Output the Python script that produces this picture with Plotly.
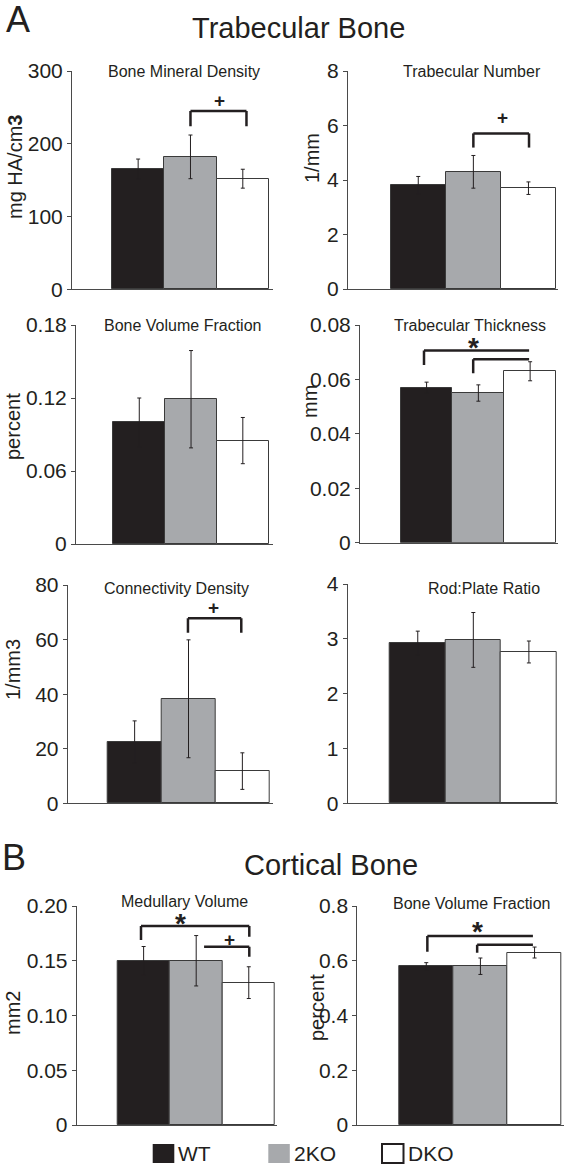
import plotly.graph_objects as go

# ---------------- data ----------------
groups = ["WT", "2KO", "DKO"]
bar_colors = ["#231f20", "#a7a9ac", "#ffffff"]

bmd_mean = [165, 182, 152]
bmd_err = [14, 30, 13]
bmd_ticks = [0, 100, 200, 300]
bmd_ticktext = ["0", "100", "200", "300"]

tbn_mean = [3.8, 4.3, 3.7]
tbn_err = [0.33, 0.6, 0.23]
tbn_ticks = [0, 2, 4, 6, 8]
tbn_ticktext = ["0", "2", "4", "6", "8"]

bvf_mean = [0.100, 0.119, 0.085]
bvf_err = [0.020, 0.040, 0.019]
bvf_ticks = [0, 0.06, 0.12, 0.18]
bvf_ticktext = ["0", "0.06", "0.12", "0.18"]

tbth_mean = [0.057, 0.055, 0.063]
tbth_err = [0.002, 0.003, 0.0035]
tbth_ticks = [0, 0.02, 0.04, 0.06, 0.08]
tbth_ticktext = ["0", "0.02", "0.04", "0.06", "0.08"]

conn_mean = [22.4, 38.3, 11.8]
conn_err = [7.8, 21.6, 6.7]
conn_ticks = [0, 20, 40, 60, 80]
conn_ticktext = ["0", "20", "40", "60", "80"]

rod_mean = [2.92, 2.98, 2.76]
rod_err = [0.22, 0.5, 0.2]
rod_ticks = [0, 1, 2, 3, 4]
rod_ticktext = ["0", "1", "2", "3", "4"]

medv_mean = [0.150, 0.150, 0.130]
medv_err = [0.013, 0.023, 0.0145]
medv_ticks = [0, 0.05, 0.10, 0.15, 0.20]
medv_ticktext = ["0", "0.05", "0.10", "0.15", "0.20"]

cbvf_mean = [0.58, 0.58, 0.63]
cbvf_err = [0.013, 0.03, 0.02]
cbvf_ticks = [0, 0.2, 0.4, 0.6, 0.8]
cbvf_ticktext = ["0", "0.2", "0.4", "0.6", "0.8"]

titles = ["Bone Mineral Density", "Trabecular Number", "Bone Volume Fraction",
          "Trabecular Thickness", "Connectivity Density", "Rod:Plate Ratio",
          "Medullary Volume", "Bone Volume Fraction"]
ytitles = ["mg HA/cm<b>3</b>", "1/mm", "percent", "mm", "1/mm3", "", "mm2", "percent"]
means = [bmd_mean, tbn_mean, bvf_mean, tbth_mean, conn_mean, rod_mean, medv_mean, cbvf_mean]
errs = [bmd_err, tbn_err, bvf_err, tbth_err, conn_err, rod_err, medv_err, cbvf_err]
tickvals = [bmd_ticks, tbn_ticks, bvf_ticks, tbth_ticks, conn_ticks, rod_ticks, medv_ticks, cbvf_ticks]
ticktexts = [bmd_ticktext, tbn_ticktext, bvf_ticktext, tbth_ticktext, conn_ticktext,
             rod_ticktext, medv_ticktext, cbvf_ticktext]

# significance brackets: panel, from group, to group, level, left leg end, right leg end
brackets = [
    (0, 1.0, 2.07, 245, 224, 224),
    (1, 1.0, 2.01, 5.71, 5.19, 5.19),
    (3, -0.05, 1.98, 0.0706, 0.0653, None),
    (3, 0.90, 1.98, 0.0674, 0.0623, None),
    (4, 0.99, 1.98, 67.8, 62.5, 62.5),
    (6, -0.05, 2.01, 0.1817, 0.169, 0.172),
    (6, 1.15, 2.01, 0.1628, None, 0.1537),
    (7, 0.02, 1.97, 0.690, 0.633, None),
    (7, 0.94, 1.97, 0.658, 0.629, None),
]
marks = [  # panel, x, y, text
    (0, 1.56, 260, "+"),
    (1, 1.52, 6.28, "+"),
    (3, 0.90, 0.0734, "*"),
    (4, 1.455, 71.6, "+"),
    (6, 0.71, 0.189, "*"),
    (6, 1.63, 0.1696, "+"),
    (7, 0.94, 0.724, "*"),
]

# ---------------- layout geometry (pixels) ----------------
W, H = 566, 1166
INK = "#231f20"
AX = "#4a4a4a"
FONT = "Liberation Sans, Arial, sans-serif"

# axis_left, axis_right, top_px, zero_px, xrange
geom = [
    (72, 273, 71, 289.3, [-1.264, 2.577]),
    (348, 558, 71, 289, [-1.275, 2.536]),
    (76, 273, 325, 544, [-1.222, 2.583]),
    (360, 558, 325, 542.7, [-1.286, 2.538]),
    (67.7, 273, 585, 803.3, [-1.243, 2.569]),
    (347.7, 558, 584, 803.3, [-1.261, 2.524]),
    (76.7, 277, 906, 1125, [-1.273, 2.537]),
    (357.3, 564, 906, 1125, [-1.274, 2.544]),
]
title_pos = [(184, 71), (472, 71), (182, 325), (470, 325), (176, 588), (484, 588), (184, 901), (471, 903)]
ytitle_pos = [(15, 167), (312, 158), (13, 427), (310, 402), (13, 670), (0, 0), (13, 1013), (317, 1008)]


def fx(px):
    return px / W


def fy(py):
    return 1 - py / H


fig = go.Figure()
annotations = []
shapes = []

for i in range(8):
    al, ar, top, zero, xr = geom[i]
    sfx = "" if i == 0 else str(i + 1)
    xa, ya = "x" + sfx, "y" + sfx
    fig.add_trace(go.Bar(
        x=[0, 1, 2], y=means[i], width=1,
        marker=dict(color=bar_colors, line=dict(color="#3a3a3a", width=1)),
        error_y=dict(type="data", array=errs[i], color=INK, thickness=1, width=2),
        xaxis=xa, yaxis=ya, showlegend=False, hoverinfo="skip", cliponaxis=False,
    ))
    fig.layout["xaxis" + sfx] = dict(
        domain=[fx(al), fx(ar)], range=xr, showline=True, linecolor=AX, linewidth=1,
        showticklabels=False, ticks="", showgrid=False, zeroline=False, anchor=ya,
        fixedrange=True, automargin=False)
    fig.layout["yaxis" + sfx] = dict(
        domain=[fy(zero), fy(top)], range=[0, tickvals[i][-1]], showline=True, linecolor=AX,
        linewidth=1, ticks="outside", ticklen=4, tickcolor=AX, tickvals=tickvals[i],
        ticktext=ticktexts[i], tickfont=dict(size=21, color=INK, family=FONT),
        showgrid=False, zeroline=False, anchor=xa, fixedrange=True, automargin=False)
    annotations.append(dict(text=titles[i], x=fx(title_pos[i][0]), y=fy(title_pos[i][1]),
                            xref="paper", yref="paper", showarrow=False, xanchor="center",
                            yanchor="middle", font=dict(size=16, color=INK, family=FONT)))
    if ytitles[i]:
        annotations.append(dict(text=ytitles[i], x=fx(ytitle_pos[i][0]), y=fy(ytitle_pos[i][1]),
                                xref="paper", yref="paper", showarrow=False, textangle=-90,
                                xanchor="center", yanchor="middle",
                                font=dict(size=20, color=INK, family=FONT)))

for (p, x0, x1, lvl, lleg, rleg) in brackets:
    sfx = "" if p == 0 else str(p + 1)
    xr_, yr_ = "x" + sfx, "y" + sfx
    line = dict(color=INK, width=2.5)
    shapes.append(dict(type="line", xref=xr_, yref=yr_, x0=x0, x1=x1, y0=lvl, y1=lvl, line=line))
    if lleg is not None:
        shapes.append(dict(type="line", xref=xr_, yref=yr_, x0=x0, x1=x0, y0=lvl, y1=lleg, line=line))
    if rleg is not None:
        shapes.append(dict(type="line", xref=xr_, yref=yr_, x0=x1, x1=x1, y0=lvl, y1=rleg, line=line))

for (p, x, y, t) in marks:
    sfx = "" if p == 0 else str(p + 1)
    if t == "*":
        annotations.append(dict(text="<b>*</b>", x=x, y=y, xref="x" + sfx, yref="y" + sfx,
                                showarrow=False, xanchor="center", yanchor="middle", yshift=-5,
                                font=dict(size=28, color=INK, family=FONT)))
    else:
        annotations.append(dict(text="<b>+</b>", x=x, y=y, xref="x" + sfx, yref="y" + sfx,
                                showarrow=False, xanchor="center", yanchor="middle",
                                font=dict(size=19, color=INK, family=FONT)))

# panel headers
headers = [("A", 18, 20, 36), ("Trabecular Bone", 298, 28, 29),
           ("B", 14, 857, 36), ("Cortical Bone", 331, 865, 29)]
for (t, x, y, s) in headers:
    annotations.append(dict(text=t, x=fx(x), y=fy(y), xref="paper", yref="paper", showarrow=False,
                            xanchor="center", yanchor="middle", font=dict(size=s, color=INK, family=FONT)))

# legend
legend_sq = [(152.7, 174.3), (268.3, 289.8), (382, 403.5)]
for g, c, (l, r) in zip(groups, bar_colors, legend_sq):
    shapes.append(dict(type="rect", xref="paper", yref="paper", x0=fx(l), x1=fx(r),
                       y0=fy(1163), y1=fy(1144), fillcolor=c,
                       line=dict(color=INK if c == "#ffffff" else c, width=2 if c == "#ffffff" else 0)))
    annotations.append(dict(text=g, x=fx(r + 2), y=fy(1153.5), xref="paper", yref="paper",
                            showarrow=False, xanchor="left", yanchor="middle",
                            font=dict(size=21, color=INK, family=FONT)))

fig.update_layout(width=W, height=H, autosize=False, margin=dict(l=0, r=0, t=0, b=0, pad=0),
                  template="none",
                  paper_bgcolor="white", plot_bgcolor="rgba(0,0,0,0)", bargap=0,
                  annotations=annotations, shapes=shapes, showlegend=False,
                  font=dict(family=FONT, color=INK))

fig.write_html("out.html", config={"displayModeBar": False},
               post_script="document.body.style.margin='0';document.body.style.overflow='hidden';")
